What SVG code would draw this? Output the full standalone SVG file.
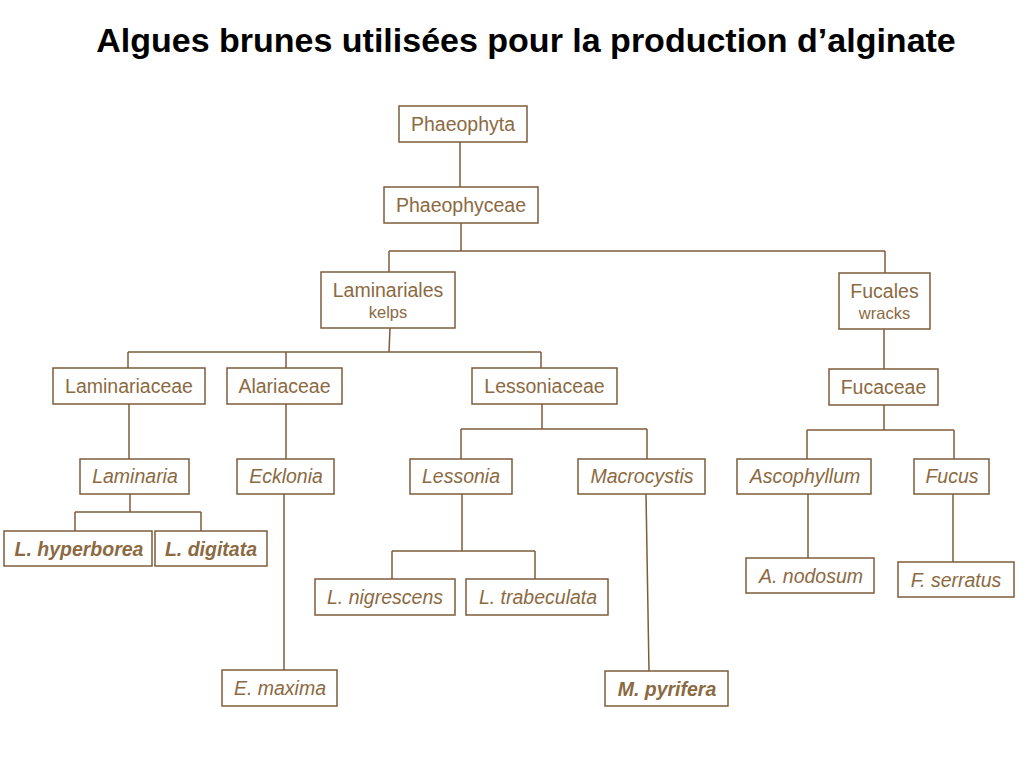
<svg xmlns="http://www.w3.org/2000/svg" width="1024" height="768" viewBox="0 0 1024 768">
<style>
.box{fill:#fff;stroke:#7d5c3b;stroke-width:1.5}
.t{font-family:"Liberation Sans",Arial,sans-serif;font-size:19.5px;fill:#8b6a42;text-anchor:middle}
.s{font-size:16.5px}
.i{font-style:italic}
.b{font-weight:bold}
.c{fill:none;stroke:#7d5c3b;stroke-width:1.5}
.title{font-family:"Liberation Sans",Arial,sans-serif;font-size:34px;font-weight:bold;fill:#000;text-anchor:middle}
</style>
<rect width="1024" height="768" fill="#fff"/>
<text class="title" x="526" y="52">Algues brunes utilisées pour la production d’alginate</text>
<g id="connectors" class="c">
<path d="M460 142V187"/>
<path d="M461 223V251M389 251H885M389 251V272M885 251V273"/>
<path d="M390 328L389 352M128 352H541M128 352V368M286 352V368M541 352V368"/>
<path d="M884 329V369"/>
<path d="M129 404V459"/>
<path d="M286 404V459"/>
<path d="M542 404V429M461 429H647M461 429V459M647 429V459"/>
<path d="M884 405V430M807 430H954M807 430V459M954 430V459"/>
<path d="M130 494V512M75 512H201M75 512V531M201 512V531"/>
<path d="M284 494V670"/>
<path d="M462 494V551M392 551H535M392 551V579M535 551V579"/>
<path d="M646 494L649 671"/>
<path d="M808 494V558"/>
<path d="M953 494V562"/>
</g>
<g id="phaeophyta"><rect class="box" x="399" y="106" width="128" height="36"/><text class="t" x="463" y="131">Phaeophyta</text></g>
<g id="phaeophyceae"><rect class="box" x="384" y="187" width="154" height="36"/><text class="t" x="461" y="212">Phaeophyceae</text></g>
<g id="laminariales"><rect class="box" x="321" y="272" width="134" height="56"/><text class="t" x="388" y="297">Laminariales</text><text class="t s" x="388" y="318">kelps</text></g>
<g id="fucales"><rect class="box" x="839" y="273" width="91" height="56"/><text class="t" x="884.5" y="298">Fucales</text><text class="t s" x="884.5" y="319">wracks</text></g>
<g id="laminariaceae"><rect class="box" x="53" y="368" width="152" height="36"/><text class="t" x="129" y="393">Laminariaceae</text></g>
<g id="alariaceae"><rect class="box" x="227" y="368" width="115" height="36"/><text class="t" x="284.5" y="393">Alariaceae</text></g>
<g id="lessoniaceae"><rect class="box" x="472" y="368" width="145" height="36"/><text class="t" x="544.5" y="393">Lessoniaceae</text></g>
<g id="fucaceae"><rect class="box" x="829" y="369" width="109" height="36"/><text class="t" x="883.5" y="394">Fucaceae</text></g>
<g id="laminaria"><rect class="box" x="80" y="459" width="109" height="35"/><text class="t i" x="135" y="483">Laminaria</text></g>
<g id="ecklonia"><rect class="box" x="237" y="459" width="97" height="35"/><text class="t i" x="286" y="483">Ecklonia</text></g>
<g id="lessonia"><rect class="box" x="410" y="459" width="102" height="35"/><text class="t i" x="461" y="483">Lessonia</text></g>
<g id="macrocystis"><rect class="box" x="578" y="459" width="127" height="35"/><text class="t i" x="642" y="483">Macrocystis</text></g>
<g id="ascophyllum"><rect class="box" x="737" y="459" width="134" height="35"/><text class="t i" x="805" y="483">Ascophyllum</text></g>
<g id="fucus"><rect class="box" x="914" y="459" width="75" height="35"/><text class="t i" x="952" y="483">Fucus</text></g>
<g id="l-hyperborea"><rect class="box" x="4" y="531" width="148" height="35"/><text class="t i b" x="79" y="556">L. hyperborea</text></g>
<g id="l-digitata"><rect class="box" x="155" y="531" width="112" height="35"/><text class="t i b" x="211" y="556">L. digitata</text></g>
<g id="l-nigrescens"><rect class="box" x="315" y="579" width="140" height="36"/><text class="t i" x="385" y="604">L. nigrescens</text></g>
<g id="l-trabeculata"><rect class="box" x="466" y="579" width="142" height="36"/><text class="t i" x="538" y="604">L. trabeculata</text></g>
<g id="a-nodosum"><rect class="box" x="746" y="558" width="128" height="35"/><text class="t i" x="811" y="583">A. nodosum</text></g>
<g id="f-serratus"><rect class="box" x="898" y="562" width="116" height="35"/><text class="t i" x="956" y="587">F. serratus</text></g>
<g id="e-maxima"><rect class="box" x="222" y="670" width="115" height="36"/><text class="t i" x="280" y="695">E. maxima</text></g>
<g id="m-pyrifera"><rect class="box" x="605" y="671" width="123" height="35"/><text class="t i b" x="667" y="696">M. pyrifera</text></g>
</svg>
